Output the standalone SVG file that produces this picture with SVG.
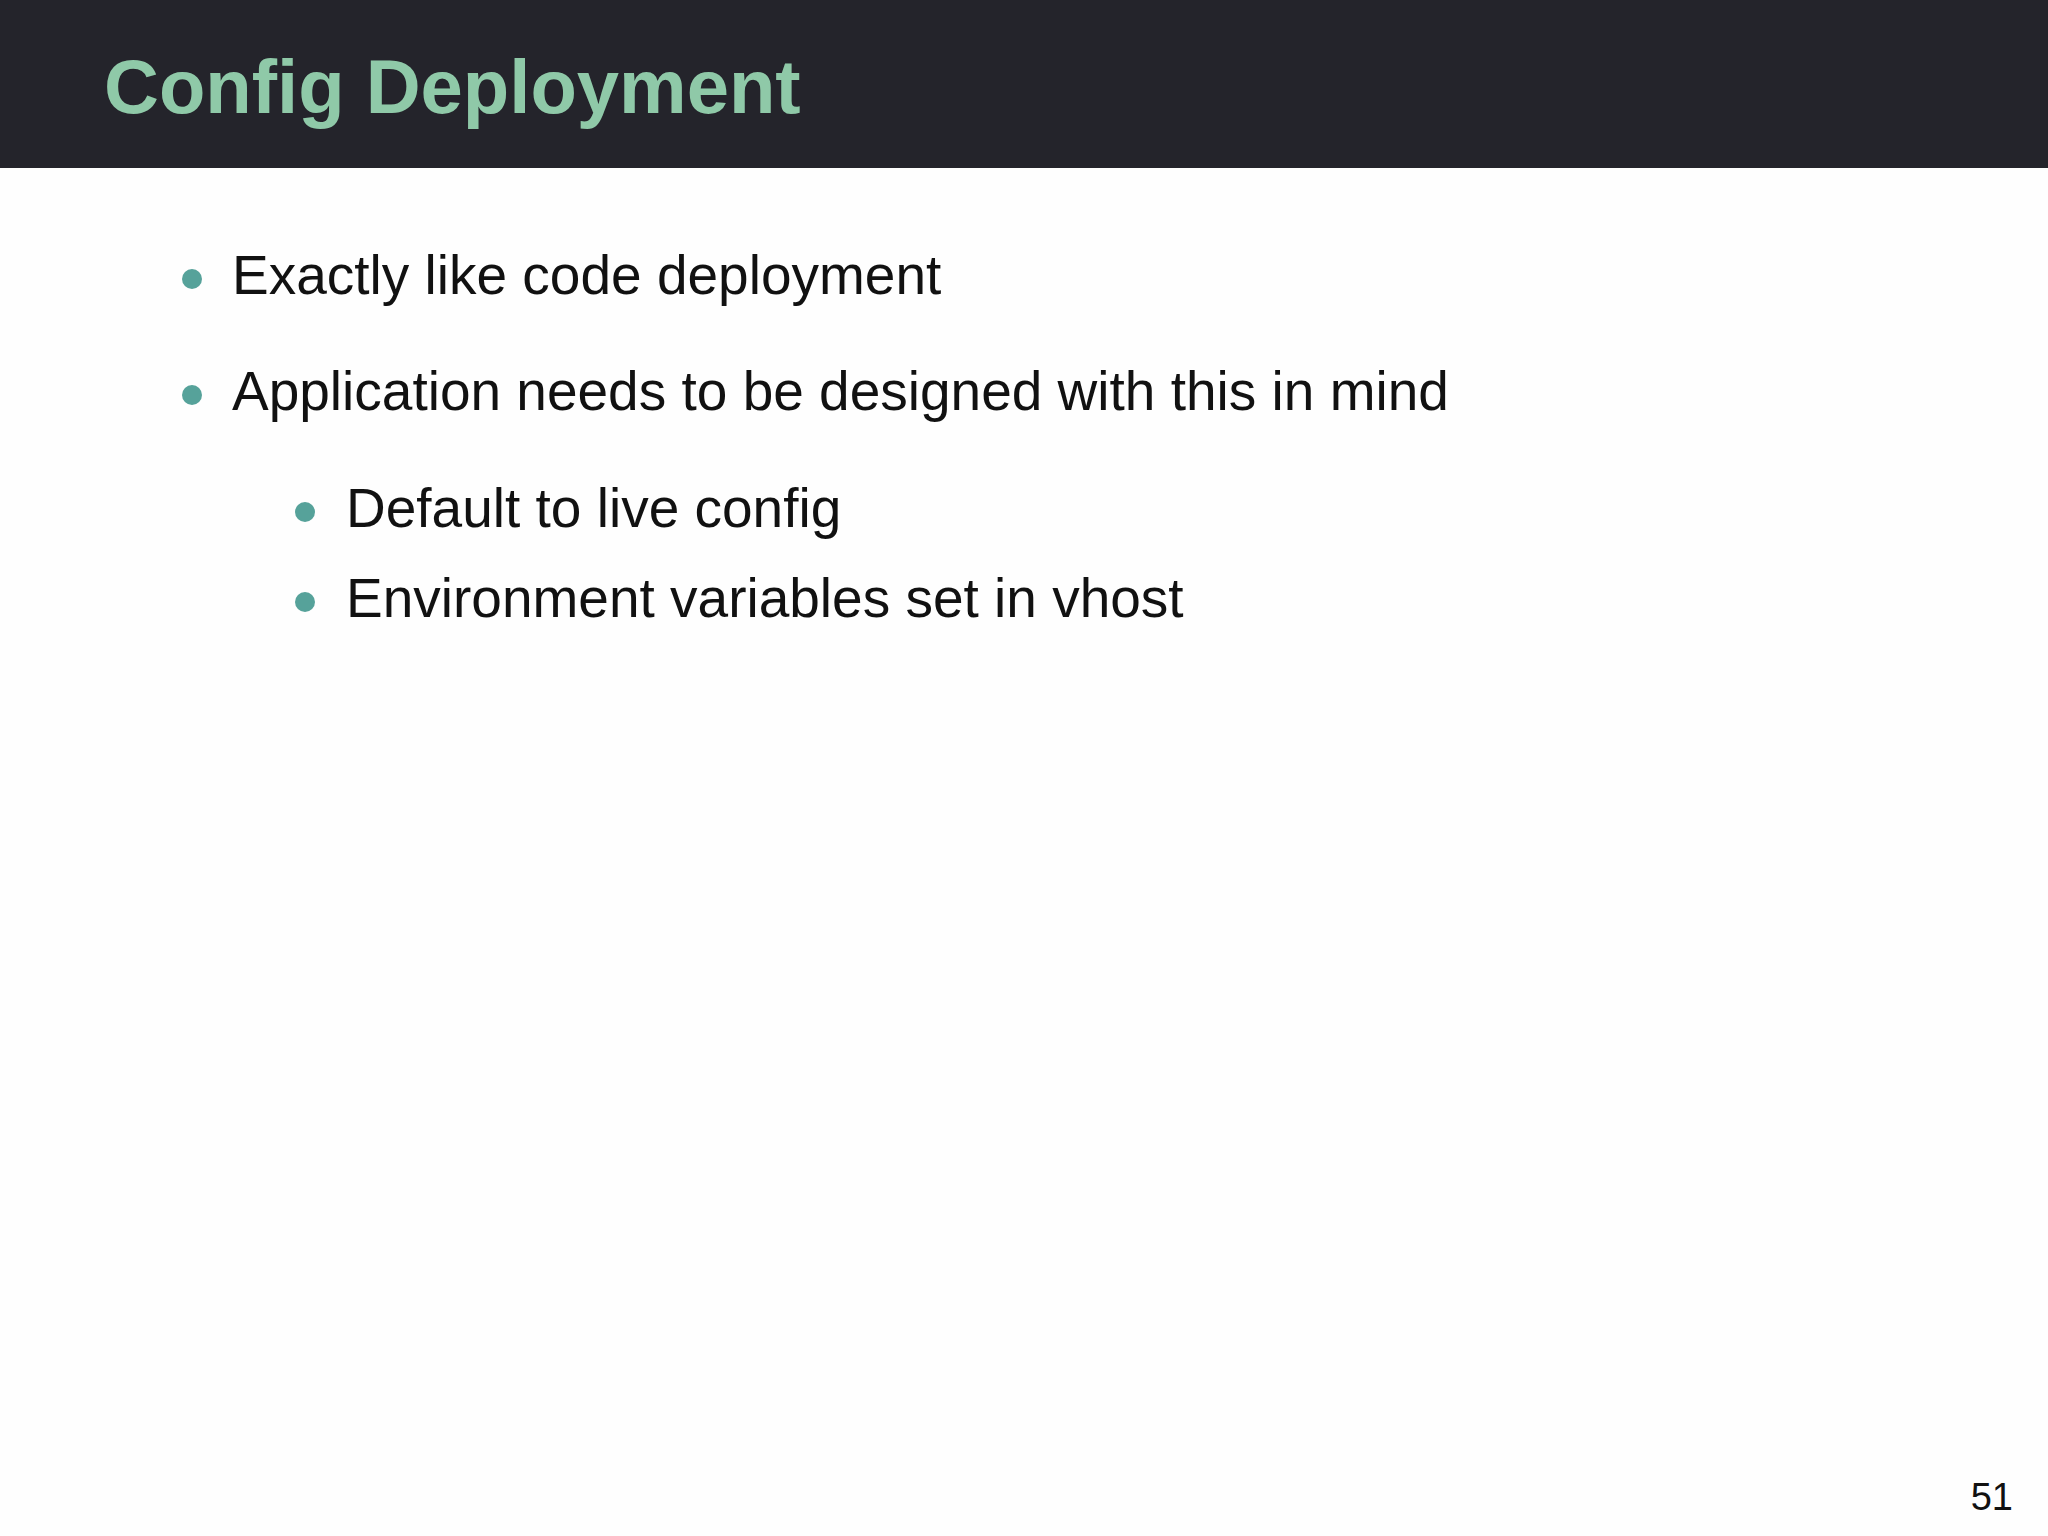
<svg xmlns="http://www.w3.org/2000/svg" width="2048" height="1536" viewBox="0 0 2048 1536">
<style>
.t{font-family:"Liberation Sans",Arial,sans-serif;fill:#111;font-size:55px}
.b{fill:#56a29a}
</style>
<rect width="2048" height="1536" fill="#fefefe"/>
<rect width="2048" height="168" fill="#24242b"/>
<text x="104" y="113" font-family="Liberation Sans,Arial,sans-serif" font-weight="bold" font-size="76" fill="#8fc9a8">Config Deployment</text>
<g id="bullets">
<circle class="b" cx="192" cy="279" r="10"/>
<text class="t" x="232" y="294">Exactly like code deployment</text>
<circle class="b" cx="192" cy="395" r="10"/>
<text class="t" x="232" y="410">Application needs to be designed with this in mind</text>
<circle class="b" cx="305" cy="512" r="10"/>
<text class="t" x="346" y="527">Default to live config</text>
<circle class="b" cx="305" cy="602" r="10"/>
<text class="t" x="346" y="617">Environment variables set in vhost</text>
</g>
<text x="2013" y="1510" text-anchor="end" font-family="Liberation Sans,Arial,sans-serif" font-size="38" fill="#111">51</text>
</svg>
